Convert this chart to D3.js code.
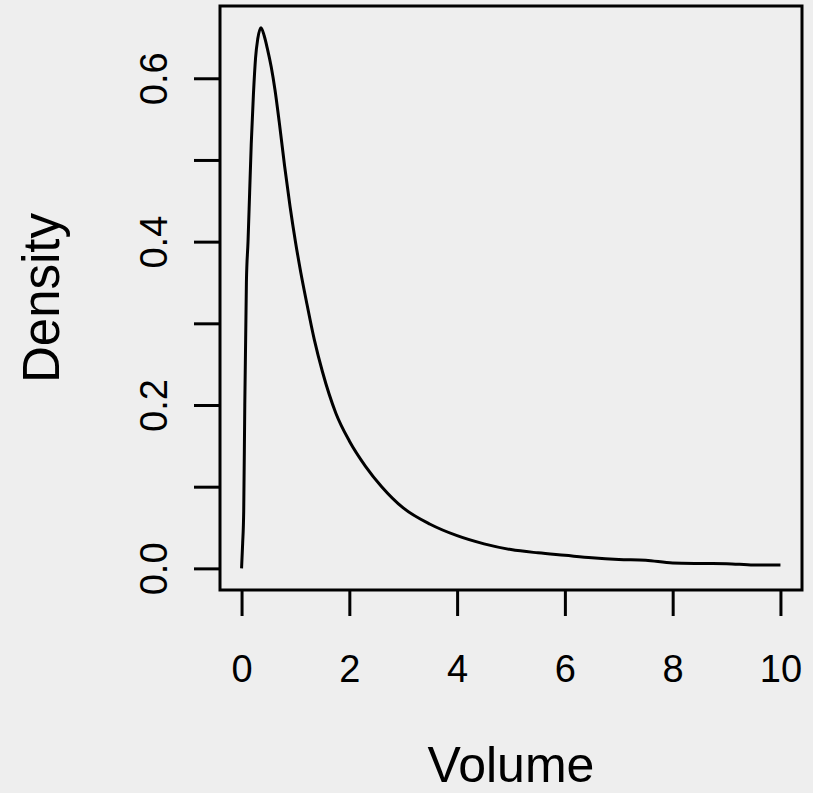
<!DOCTYPE html>
<html>
<head>
<meta charset="utf-8">
<script src="https://cdn.jsdelivr.net/npm/d3@7"></script>
<style>
  html, body { margin: 0; padding: 0; background: #eeeeee; }
  svg { display: block; }
  text { font-family: "Liberation Sans", Arial, sans-serif; fill: #000; }
</style>
</head>
<body>
<script>
// ---- data ----
const volume = [0, 0.02, 0.04, 0.06, 0.09, 0.12, 0.15, 0.18, 0.22, 0.26, 0.30, 0.36, 0.42, 0.48, 0.55, 0.62, 0.70, 0.80, 0.90, 1.0, 1.1, 1.2, 1.35, 1.5, 1.75, 2.0, 2.3, 2.6, 3.0, 3.5, 4.0, 4.5, 5.0, 5.5, 6.0, 6.5, 7.0, 7.5, 8.0, 8.5, 9.0, 9.5, 10.0];
const density = [0.0, 0.03, 0.07, 0.20, 0.35, 0.40, 0.46, 0.52, 0.58, 0.625, 0.648, 0.662, 0.652, 0.636, 0.614, 0.586, 0.546, 0.492, 0.443, 0.400, 0.362, 0.328, 0.280, 0.241, 0.190, 0.156, 0.125, 0.100, 0.074, 0.054, 0.040, 0.030, 0.023, 0.019, 0.016, 0.013, 0.011, 0.010, 0.0065, 0.006, 0.0058, 0.004, 0.004];
const xTicks = [0, 2, 4, 6, 8, 10];
const yTicks = [0.0, 0.1, 0.2, 0.3, 0.4, 0.5, 0.6];
const yTickLabels = ["0.0", "", "0.2", "", "0.4", "", "0.6"];
const xLabel = "Volume";
const yLabel = "Density";

const W = 813, H = 793;
const box = { left: 220, right: 802, top: 6, bottom: 590 };

const svg = d3.select("body").append("svg").attr("width", W).attr("height", H);
svg.append("rect").attr("width", W).attr("height", H).attr("fill", "#eeeeee");

// R-style 4% axis expansion
function expand(ext) { const p = (ext[1] - ext[0]) * 0.04; return [ext[0] - p, ext[1] + p]; }
const x = d3.scaleLinear().domain(expand(d3.extent(volume))).range([box.left, box.right]);
const y = d3.scaleLinear().domain(expand(d3.extent(density))).range([box.bottom, box.top]);

const pts = volume.map((v, i) => [v, density[i]]);
const line = d3.line().x(d => x(d[0])).y(d => y(d[1])).curve(d3.curveMonotoneX);

// curve
svg.append("path")
  .datum(pts)
  .attr("fill", "none")
  .attr("stroke", "#000")
  .attr("stroke-width", 3)
  .attr("stroke-linejoin", "round")
  .attr("d", line);

// box
svg.append("rect")
  .attr("x", box.left).attr("y", box.top)
  .attr("width", box.right - box.left).attr("height", box.bottom - box.top)
  .attr("fill", "none").attr("stroke", "#000").attr("stroke-width", 3);

// x axis
const xAxis = d3.axisBottom(x).tickValues(xTicks).tickSize(26).tickPadding(0).tickFormat(d3.format("d"));
const gx = svg.append("g").attr("transform", `translate(0,${box.bottom})`).call(xAxis);
gx.select(".domain").remove();
gx.selectAll(".tick line").attr("stroke", "#000").attr("stroke-width", 3);
gx.selectAll(".tick text")
  .attr("y", 92).attr("dy", null)
  .attr("font-size", 38).attr("font-family", "Liberation Sans, Arial, sans-serif")
  .attr("fill", "#000");

// y axis
const yAxis = d3.axisLeft(y).tickValues(yTicks).tickSize(26).tickPadding(0)
  .tickFormat((d, i) => yTickLabels[i]);
const gy = svg.append("g").attr("transform", `translate(${box.left},0)`).call(yAxis);
gy.select(".domain").remove();
gy.selectAll(".tick line").attr("stroke", "#000").attr("stroke-width", 3);
gy.selectAll(".tick text")
  .attr("x", null).attr("dy", null)
  .attr("transform", "translate(-53,0) rotate(-90)")
  .attr("text-anchor", "middle")
  .attr("font-size", 38).attr("font-family", "Liberation Sans, Arial, sans-serif")
  .attr("fill", "#000");

// axis titles
svg.append("text")
  .attr("x", (box.left + box.right) / 2).attr("y", 782)
  .attr("text-anchor", "middle").attr("font-size", 50)
  .text(xLabel);
svg.append("text")
  .attr("transform", `translate(59,${(box.top + box.bottom) / 2}) rotate(-90)`)
  .attr("text-anchor", "middle").attr("font-size", 51)
  .text(yLabel);
</script>
</body>
</html>
